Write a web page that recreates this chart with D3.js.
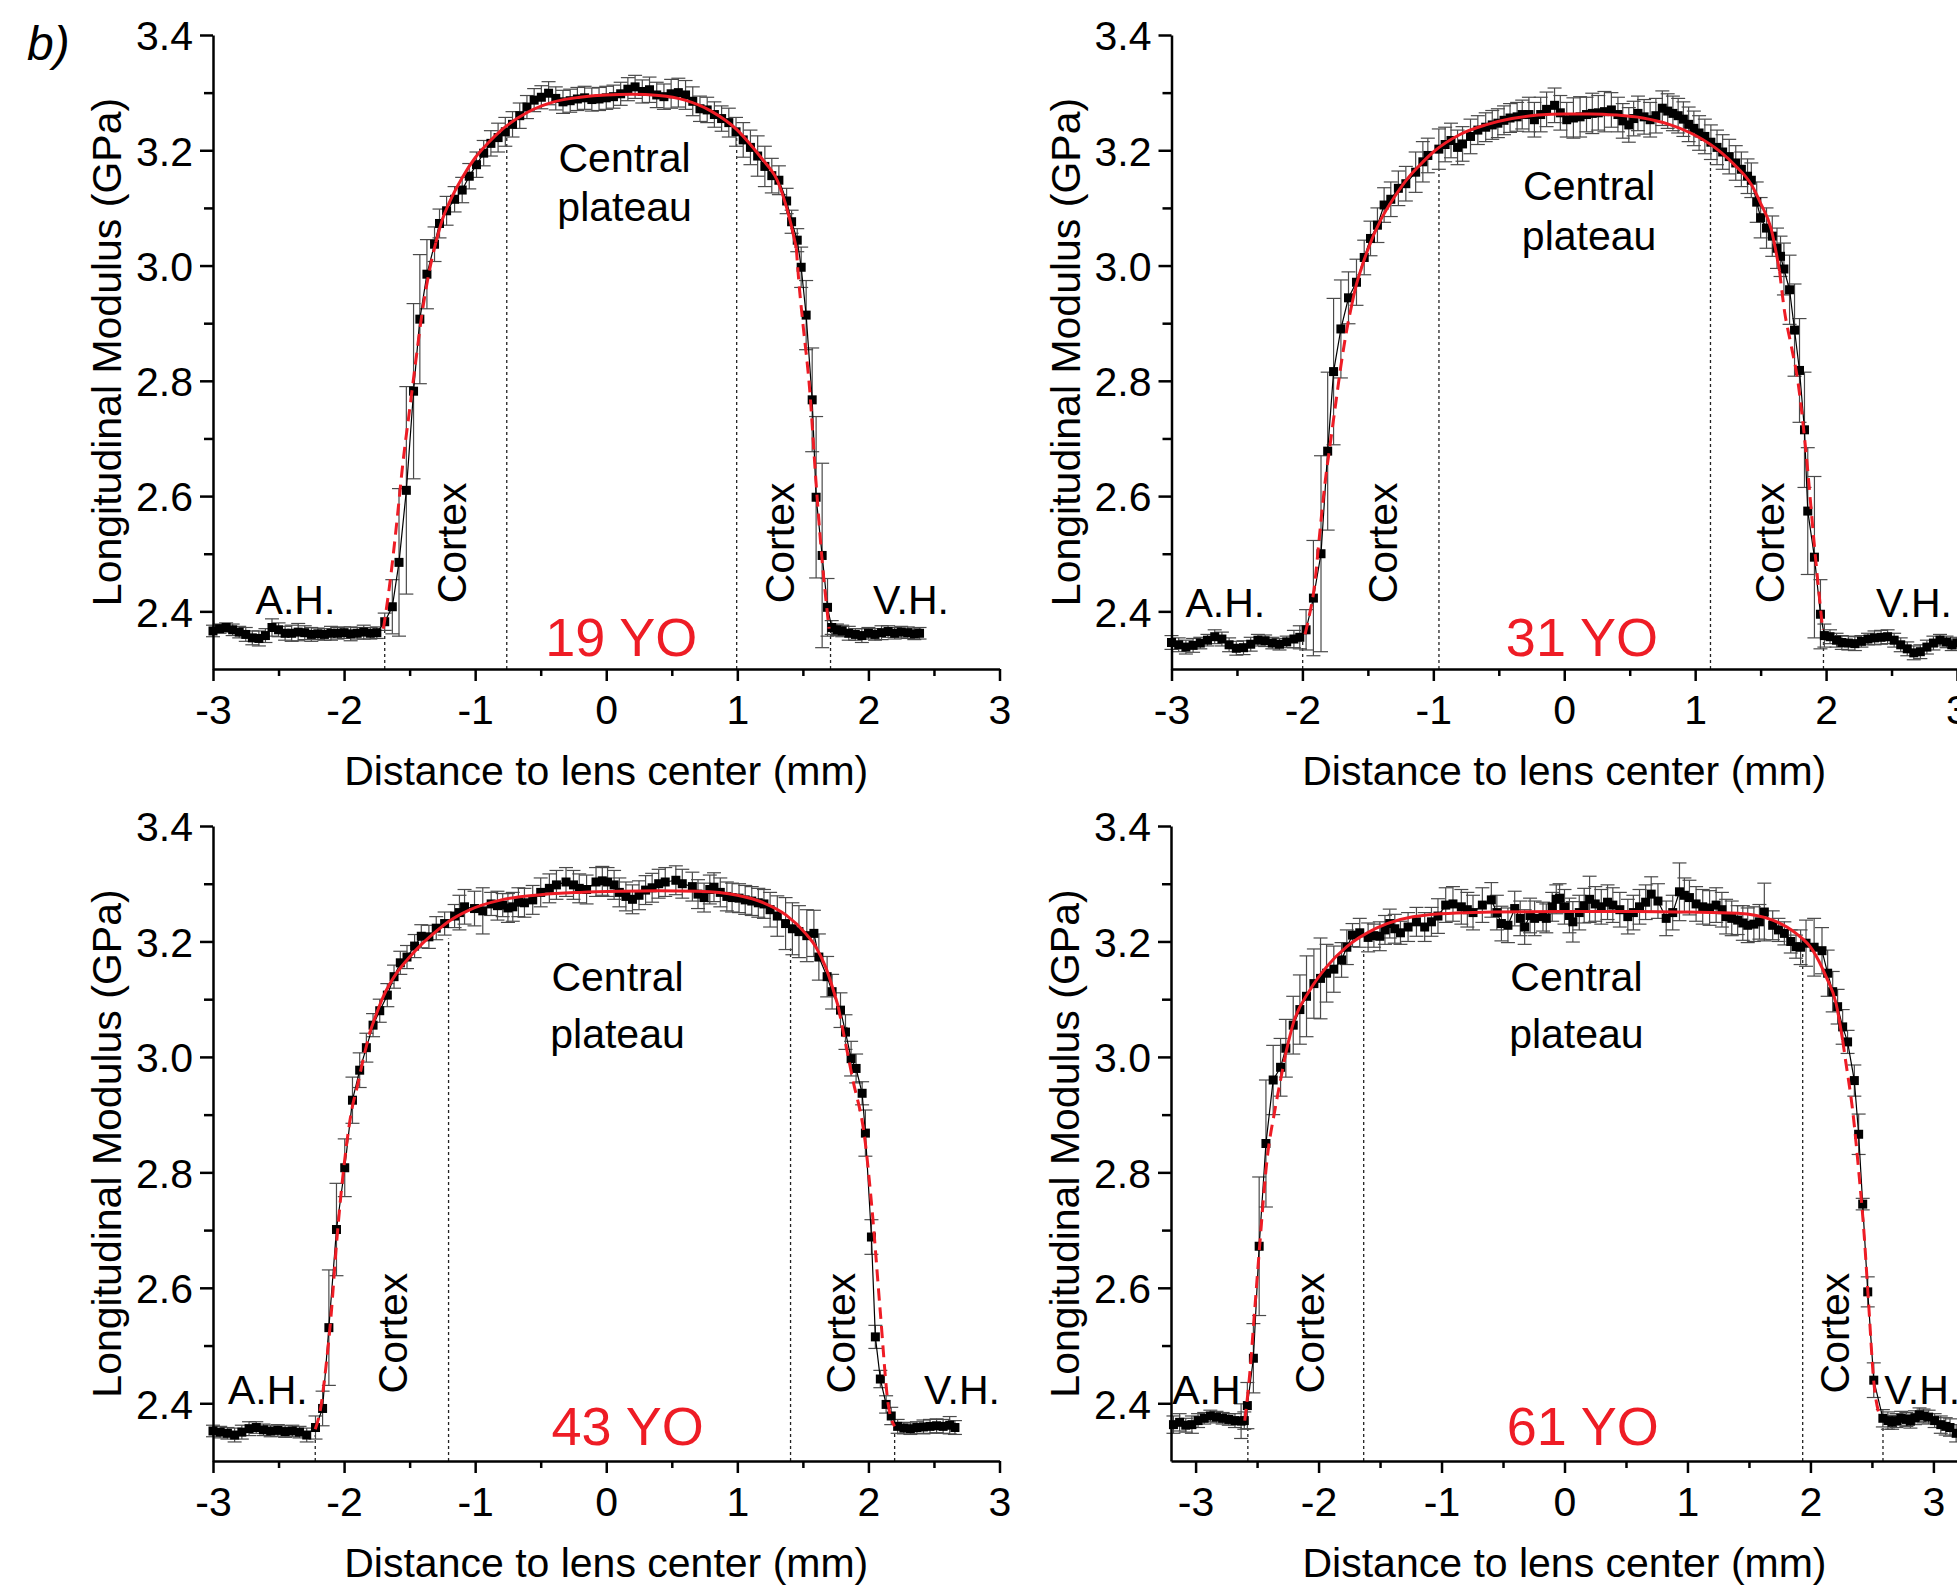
<!DOCTYPE html>
<html><head><meta charset="utf-8">
<script src="https://cdn.jsdelivr.net/npm/d3@7"></script>
<style>
body{margin:0;background:#fff;}
svg{display:block;}
text{font-family:"Liberation Sans",Arial,Helvetica,sans-serif;fill:#000;}
</style>
</head><body>
<svg id="chart" width="1957" height="1588"></svg>
<script>
// ---------- tick values / labels ----------
const xTicksMajor = [-3,-2,-1,0,1,2,3];
const xTicksMinor = [-2.5,-1.5,-0.5,0.5,1.5,2.5];
const yTicksMajor = [2.4,2.6,2.8,3.0,3.2,3.4];
const yTicksMinor = [2.5,2.7,2.9,3.1,3.3];
const yDomain = [2.3,3.4];
const xTitle = "Distance to lens center (mm)";
const yTitle = "Longitudinal Modulus (GPa)";
const ages = ["19 YO","31 YO","43 YO","61 YO"];

// ---------- measured points [distance mm, modulus GPa, error] ----------
const data19 = [[-3.00,2.366,0.01],[-2.95,2.370,0.008],[-2.90,2.372,0.008],[-2.85,2.368,0.01],[-2.80,2.364,0.01],[-2.75,2.360,0.012],[-2.70,2.354,0.012],[-2.65,2.353,0.013],[-2.60,2.358,0.012],[-2.55,2.372,0.015],[-2.50,2.368,0.012],[-2.45,2.362,0.012],[-2.40,2.362,0.014],[-2.35,2.364,0.015],[-2.30,2.363,0.012],[-2.25,2.360,0.012],[-2.20,2.361,0.01],[-2.15,2.360,0.01],[-2.10,2.362,0.012],[-2.05,2.362,0.01],[-2.00,2.363,0.01],[-1.95,2.361,0.012],[-1.90,2.362,0.01],[-1.85,2.364,0.012],[-1.80,2.362,0.01],[-1.75,2.363,0.01],[-1.69,2.382,0.015],[-1.632,2.408,0.047],[-1.581,2.485,0.128],[-1.525,2.610,0.18],[-1.470,2.782,0.152],[-1.422,2.907,0.112],[-1.368,2.985,0.06],[-1.310,3.037,0.03],[-1.272,3.073,0.025],[-1.218,3.095,0.025],[-1.157,3.115,0.022],[-1.099,3.131,0.022],[-1.045,3.155,0.022],[-0.99,3.175,0.022],[-0.935,3.195,0.022],[-0.88,3.212,0.022],[-0.825,3.222,0.025],[-0.77,3.232,0.025],[-0.715,3.245,0.022],[-0.66,3.26,0.022],[-0.605,3.275,0.02],[-0.55,3.287,0.02],[-0.495,3.292,0.02],[-0.44,3.299,0.02],[-0.385,3.29,0.02],[-0.33,3.284,0.02],[-0.275,3.286,0.02],[-0.22,3.289,0.02],[-0.165,3.291,0.02],[-0.11,3.288,0.02],[-0.055,3.289,0.02],[0,3.291,0.02],[0.055,3.293,0.02],[0.11,3.298,0.02],[0.165,3.306,0.02],[0.22,3.31,0.02],[0.275,3.302,0.02],[0.33,3.305,0.022],[0.385,3.296,0.022],[0.44,3.293,0.022],[0.495,3.298,0.025],[0.55,3.3,0.025],[0.605,3.296,0.025],[0.66,3.285,0.025],[0.715,3.272,0.022],[0.77,3.27,0.022],[0.825,3.262,0.022],[0.88,3.255,0.022],[0.935,3.248,0.025],[0.99,3.232,0.025],[1.045,3.218,0.03],[1.10,3.205,0.03],[1.155,3.19,0.035],[1.21,3.172,0.035],[1.263,3.156,0.03],[1.317,3.148,0.025],[1.376,3.112,0.022],[1.414,3.076,0.02],[1.457,3.044,0.02],[1.487,2.997,0.035],[1.525,2.914,0.06],[1.571,2.767,0.09],[1.601,2.598,0.14],[1.647,2.497,0.16],[1.688,2.407,0.05],[1.72,2.372,0.012],[1.76,2.368,0.01],[1.80,2.366,0.01],[1.85,2.362,0.012],[1.90,2.36,0.01],[1.95,2.358,0.012],[2.00,2.362,0.01],[2.05,2.36,0.01],[2.10,2.363,0.012],[2.15,2.365,0.01],[2.20,2.362,0.01],[2.25,2.364,0.01],[2.30,2.363,0.01],[2.35,2.361,0.01],[2.39,2.362,0.01]];

const data31 = [[-3.00,2.346,0.012],[-2.945,2.342,0.012],[-2.89,2.338,0.012],[-2.835,2.341,0.012],[-2.78,2.345,0.01],[-2.725,2.350,0.01],[-2.67,2.356,0.012],[-2.615,2.352,0.012],[-2.56,2.342,0.012],[-2.505,2.336,0.012],[-2.45,2.337,0.012],[-2.395,2.343,0.012],[-2.34,2.350,0.01],[-2.285,2.349,0.01],[-2.23,2.345,0.01],[-2.175,2.343,0.01],[-2.12,2.347,0.01],[-2.065,2.352,0.015],[-2.02,2.355,0.02],[-1.972,2.368,0.035],[-1.916,2.423,0.1],[-1.858,2.50,0.17],[-1.807,2.678,0.137],[-1.762,2.816,0.127],[-1.706,2.89,0.085],[-1.648,2.944,0.045],[-1.587,2.971,0.04],[-1.528,3.014,0.03],[-1.48,3.047,0.03],[-1.427,3.07,0.03],[-1.376,3.105,0.03],[-1.325,3.115,0.03],[-1.267,3.134,0.03],[-1.21,3.142,0.03],[-1.135,3.162,0.035],[-1.08,3.18,0.035],[-1.042,3.191,0.03],[-0.958,3.202,0.035],[-0.91,3.21,0.03],[-0.865,3.217,0.03],[-0.815,3.205,0.03],[-0.777,3.211,0.03],[-0.716,3.224,0.03],[-0.66,3.235,0.025],[-0.6,3.24,0.025],[-0.55,3.244,0.025],[-0.507,3.247,0.025],[-0.46,3.252,0.025],[-0.414,3.256,0.025],[-0.36,3.258,0.025],[-0.321,3.262,0.025],[-0.27,3.262,0.03],[-0.228,3.253,0.03],[-0.18,3.262,0.03],[-0.135,3.271,0.03],[-0.074,3.278,0.03],[-0.03,3.265,0.03],[0.019,3.253,0.03],[0.07,3.256,0.035],[0.121,3.258,0.035],[0.17,3.262,0.03],[0.214,3.264,0.035],[0.26,3.265,0.03],[0.307,3.267,0.035],[0.36,3.27,0.03],[0.41,3.262,0.03],[0.447,3.251,0.03],[0.493,3.244,0.03],[0.53,3.255,0.03],[0.563,3.264,0.03],[0.61,3.258,0.03],[0.656,3.253,0.03],[0.70,3.26,0.03],[0.749,3.273,0.03],[0.79,3.268,0.03],[0.83,3.264,0.03],[0.87,3.26,0.03],[0.91,3.254,0.03],[0.95,3.245,0.03],[0.99,3.238,0.03],[1.03,3.23,0.03],[1.074,3.224,0.03],[1.12,3.214,0.03],[1.167,3.205,0.03],[1.21,3.197,0.03],[1.26,3.189,0.03],[1.31,3.178,0.03],[1.353,3.167,0.03],[1.40,3.155,0.03],[1.429,3.148,0.03],[1.47,3.11,0.035],[1.50,3.083,0.035],[1.545,3.065,0.035],[1.589,3.051,0.035],[1.625,3.03,0.035],[1.652,3.016,0.035],[1.678,2.994,0.045],[1.721,2.958,0.06],[1.759,2.888,0.08],[1.797,2.818,0.09],[1.835,2.715,0.1],[1.86,2.574,0.11],[1.911,2.494,0.14],[1.957,2.395,0.06],[1.987,2.358,0.02],[2.03,2.356,0.012],[2.08,2.35,0.012],[2.12,2.346,0.012],[2.17,2.345,0.012],[2.22,2.344,0.012],[2.27,2.348,0.01],[2.32,2.352,0.01],[2.37,2.354,0.012],[2.42,2.355,0.012],[2.47,2.356,0.012],[2.52,2.35,0.012],[2.57,2.342,0.012],[2.62,2.335,0.012],[2.67,2.328,0.012],[2.72,2.33,0.012],[2.77,2.338,0.012],[2.82,2.345,0.012],[2.87,2.35,0.01],[2.92,2.347,0.01],[2.96,2.342,0.01],[3.0,2.345,0.01]];

const data43 = [[-3.00,2.352,0.01],[-2.945,2.350,0.01],[-2.89,2.348,0.01],[-2.835,2.345,0.012],[-2.78,2.350,0.012],[-2.725,2.356,0.012],[-2.67,2.358,0.01],[-2.615,2.354,0.01],[-2.56,2.352,0.01],[-2.505,2.353,0.01],[-2.45,2.351,0.01],[-2.395,2.352,0.01],[-2.34,2.350,0.01],[-2.285,2.345,0.012],[-2.218,2.358,0.02],[-2.164,2.391,0.03],[-2.116,2.531,0.1],[-2.058,2.701,0.08],[-1.995,2.808,0.05],[-1.936,2.925,0.04],[-1.881,2.977,0.03],[-1.83,3.016,0.025],[-1.779,3.055,0.02],[-1.728,3.08,0.02],[-1.67,3.107,0.02],[-1.619,3.139,0.02],[-1.571,3.163,0.02],[-1.52,3.173,0.02],[-1.462,3.192,0.02],[-1.411,3.209,0.02],[-1.353,3.208,0.02],[-1.297,3.223,0.02],[-1.233,3.231,0.02],[-1.157,3.244,0.02],[-1.12,3.25,0.03],[-1.081,3.26,0.03],[-1.005,3.257,0.03],[-0.942,3.253,0.04],[-0.878,3.265,0.02],[-0.83,3.262,0.025],[-0.79,3.263,0.02],[-0.75,3.258,0.025],[-0.713,3.26,0.025],[-0.67,3.268,0.025],[-0.624,3.267,0.025],[-0.561,3.272,0.025],[-0.5,3.285,0.025],[-0.434,3.292,0.025],[-0.38,3.298,0.025],[-0.307,3.303,0.025],[-0.25,3.298,0.025],[-0.206,3.292,0.025],[-0.15,3.29,0.025],[-0.078,3.303,0.025],[-0.03,3.305,0.025],[0.01,3.303,0.025],[0.06,3.298,0.025],[0.1,3.285,0.025],[0.15,3.278,0.025],[0.2,3.273,0.025],[0.25,3.28,0.025],[0.3,3.289,0.025],[0.35,3.293,0.025],[0.4,3.3,0.025],[0.45,3.303,0.025],[0.531,3.306,0.025],[0.58,3.3,0.025],[0.657,3.295,0.025],[0.7,3.282,0.025],[0.746,3.276,0.025],[0.79,3.29,0.025],[0.822,3.294,0.025],[0.87,3.285,0.025],[0.92,3.278,0.025],[0.96,3.276,0.025],[1.013,3.275,0.025],[1.06,3.272,0.025],[1.11,3.27,0.025],[1.16,3.267,0.025],[1.203,3.265,0.025],[1.25,3.255,0.03],[1.305,3.244,0.035],[1.368,3.231,0.045],[1.42,3.222,0.045],[1.47,3.217,0.045],[1.53,3.21,0.045],[1.584,3.214,0.04],[1.622,3.173,0.04],[1.685,3.139,0.035],[1.723,3.113,0.03],[1.787,3.081,0.03],[1.825,3.043,0.03],[1.868,2.997,0.03],[1.906,2.98,0.025],[1.952,2.937,0.02],[1.977,2.868,0.04],[2.023,2.688,0.03],[2.053,2.515,0.02],[2.091,2.442,0.015],[2.135,2.398,0.015],[2.174,2.378,0.015],[2.223,2.36,0.012],[2.27,2.357,0.01],[2.32,2.356,0.01],[2.37,2.358,0.01],[2.42,2.359,0.012],[2.47,2.36,0.012],[2.52,2.361,0.012],[2.57,2.36,0.012],[2.62,2.362,0.015],[2.66,2.358,0.012]];

const data61 = [[-3.18,2.363,0.015],[-3.13,2.367,0.015],[-3.08,2.362,0.012],[-3.03,2.363,0.015],[-2.98,2.37,0.012],[-2.93,2.374,0.01],[-2.88,2.378,0.01],[-2.83,2.376,0.01],[-2.78,2.374,0.01],[-2.73,2.372,0.01],[-2.68,2.37,0.012],[-2.63,2.369,0.03],[-2.604,2.37,0.015],[-2.579,2.396,0.04],[-2.53,2.478,0.06],[-2.483,2.672,0.12],[-2.428,2.85,0.11],[-2.369,2.96,0.06],[-2.309,2.982,0.05],[-2.266,3.015,0.05],[-2.206,3.055,0.05],[-2.152,3.082,0.06],[-2.098,3.105,0.07],[-2.038,3.127,0.06],[-1.984,3.136,0.07],[-1.935,3.145,0.05],[-1.876,3.152,0.04],[-1.813,3.168,0.03],[-1.77,3.19,0.03],[-1.724,3.211,0.02],[-1.665,3.215,0.025],[-1.597,3.207,0.025],[-1.55,3.21,0.02],[-1.502,3.209,0.025],[-1.46,3.22,0.025],[-1.421,3.231,0.025],[-1.38,3.222,0.025],[-1.334,3.215,0.02],[-1.272,3.225,0.025],[-1.204,3.234,0.025],[-1.137,3.225,0.025],[-1.082,3.234,0.025],[-1.029,3.244,0.03],[-0.966,3.263,0.03],[-0.907,3.265,0.03],[-0.839,3.26,0.03],[-0.79,3.255,0.03],[-0.744,3.25,0.03],[-0.668,3.263,0.03],[-0.595,3.272,0.03],[-0.55,3.25,0.03],[-0.513,3.231,0.03],[-0.46,3.228,0.03],[-0.405,3.257,0.03],[-0.36,3.24,0.03],[-0.324,3.225,0.03],[-0.28,3.245,0.03],[-0.243,3.24,0.03],[-0.175,3.243,0.025],[-0.148,3.24,0.025],[-0.1,3.26,0.025],[-0.067,3.273,0.025],[-0.04,3.275,0.025],[0.0,3.26,0.03],[0.04,3.245,0.03],[0.068,3.234,0.035],[0.12,3.25,0.03],[0.16,3.262,0.03],[0.204,3.273,0.04],[0.25,3.265,0.03],[0.299,3.26,0.03],[0.35,3.268,0.03],[0.393,3.263,0.03],[0.45,3.255,0.03],[0.515,3.243,0.03],[0.56,3.25,0.03],[0.61,3.26,0.03],[0.66,3.268,0.03],[0.705,3.282,0.03],[0.76,3.27,0.03],[0.827,3.24,0.03],[0.88,3.25,0.03],[0.935,3.286,0.05],[0.975,3.28,0.03],[1.016,3.276,0.03],[1.07,3.265,0.03],[1.124,3.26,0.03],[1.18,3.258,0.03],[1.233,3.263,0.03],[1.28,3.255,0.03],[1.314,3.243,0.03],[1.36,3.24,0.03],[1.408,3.237,0.025],[1.45,3.232,0.03],[1.49,3.228,0.03],[1.54,3.23,0.03],[1.585,3.234,0.03],[1.625,3.251,0.05],[1.693,3.228,0.025],[1.74,3.22,0.02],[1.788,3.214,0.02],[1.84,3.2,0.02],[1.883,3.191,0.02],[1.92,3.19,0.03],[1.964,3.197,0.04],[2.03,3.19,0.05],[2.094,3.184,0.04],[2.14,3.145,0.04],[2.181,3.113,0.035],[2.221,3.087,0.03],[2.262,3.052,0.03],[2.302,3.026,0.02],[2.357,2.959,0.027],[2.392,2.866,0.035],[2.425,2.745,0.01],[2.466,2.593,0.026],[2.515,2.44,0.03],[2.589,2.374,0.015],[2.63,2.37,0.015],[2.664,2.367,0.012],[2.70,2.37,0.012],[2.738,2.374,0.012],[2.78,2.372,0.012],[2.813,2.369,0.012],[2.85,2.375,0.012],[2.887,2.38,0.012],[2.92,2.378,0.012],[2.961,2.376,0.012],[3.01,2.37,0.012],[3.06,2.363,0.015],[3.1,2.36,0.015],[3.135,2.358,0.015],[3.185,2.348,0.015]];

// ---------- fitted profile curves [distance, modulus] ----------
const fit19 = [[-1.70,2.37],[-1.65,2.45],[-1.60,2.55],[-1.55,2.66],[-1.50,2.75],[-1.45,2.84],[-1.40,2.925],[-1.35,2.99],[-1.30,3.04],[-1.25,3.08],[-1.20,3.108],[-1.10,3.152],[-1.00,3.187],[-0.90,3.213],[-0.80,3.235],[-0.60,3.266],[-0.40,3.284],[-0.20,3.292],[0,3.296],[0.20,3.297],[0.40,3.295],[0.60,3.287],[0.80,3.268],[1.00,3.235],[1.10,3.21],[1.20,3.182],[1.25,3.168],[1.30,3.15],[1.35,3.12],[1.40,3.08],[1.45,3.03],[1.47,2.97],[1.50,2.90],[1.55,2.79],[1.60,2.625],[1.65,2.48],[1.70,2.37]];
const fit31 = [[-1.98,2.36],[-1.95,2.39],[-1.91,2.44],[-1.87,2.53],[-1.833,2.612],[-1.782,2.70],[-1.74,2.77],[-1.706,2.826],[-1.66,2.89],[-1.62,2.935],[-1.59,2.965],[-1.55,2.995],[-1.50,3.028],[-1.40,3.08],[-1.30,3.118],[-1.20,3.15],[-1.10,3.175],[-1.00,3.197],[-0.80,3.227],[-0.60,3.244],[-0.40,3.255],[-0.20,3.261],[0,3.263],[0.20,3.263],[0.40,3.261],[0.60,3.256],[0.80,3.245],[1.00,3.226],[1.20,3.196],[1.30,3.175],[1.43,3.14],[1.50,3.108],[1.58,3.064],[1.645,2.99],[1.683,2.92],[1.73,2.865],[1.784,2.80],[1.847,2.675],[1.911,2.513],[1.974,2.368]];
const fit43 = [[-2.22,2.355],[-2.18,2.39],[-2.14,2.46],[-2.10,2.55],[-2.06,2.67],[-2.02,2.77],[-1.98,2.85],[-1.94,2.91],[-1.90,2.948],[-1.85,3.0],[-1.80,3.045],[-1.70,3.105],[-1.60,3.145],[-1.50,3.173],[-1.40,3.197],[-1.30,3.217],[-1.20,3.235],[-1.05,3.254],[-0.80,3.272],[-0.50,3.281],[-0.20,3.285],[0.10,3.287],[0.40,3.288],[0.70,3.287],[1.00,3.28],[1.20,3.267],[1.37,3.246],[1.52,3.214],[1.60,3.19],[1.673,3.156],[1.77,3.087],[1.876,2.966],[1.977,2.85],[2.028,2.735],[2.09,2.56],[2.15,2.40],[2.20,2.36]];
const fit61 = [[-2.60,2.37],[-2.56,2.45],[-2.52,2.56],[-2.48,2.67],[-2.42,2.82],[-2.355,2.908],[-2.30,2.97],[-2.27,3.003],[-2.206,3.058],[-2.07,3.116],[-1.935,3.156],[-1.77,3.191],[-1.53,3.223],[-1.12,3.246],[-0.58,3.251],[0,3.252],[0.6,3.252],[1.0,3.251],[1.408,3.249],[1.693,3.237],[1.883,3.214],[2.018,3.185],[2.127,3.139],[2.208,3.093],[2.262,3.029],[2.289,2.989],[2.343,2.908],[2.397,2.792],[2.432,2.706],[2.473,2.573],[2.515,2.438],[2.56,2.38]];
// x-range where each fit is drawn solid (outside: dashed)
const solid19 = [-1.30,1.45], solid31 = [-1.62,1.645], solid43 = [-1.80,1.77], solid61 = [-2.27,2.262];

// ---------- zone boundaries [distance, top modulus] ----------
const bounds19 = [[-1.69,2.37],[-0.759,3.237],[0.995,3.235],[1.711,2.365]];
const bounds31 = [[-1.998,2.352],[-0.957,3.168],[1.117,3.18],[1.98,2.35]];
const bounds43 = [[-2.22,2.345],[-1.203,3.205],[1.406,3.188],[2.2,2.352]];
const bounds61 = [[-2.575,2.36],[-1.633,3.185],[1.937,3.185],[2.59,2.36]];

// ---------- layout ----------
const RED = "#ee1c25";
const panels = [
  {data:data19, fit:fit19, solid:solid19, bounds:bounds19, age:ages[0], xDomain:[-3,3], xRange:[213,999.5], yRange:[669,35],
   ah:{x:-2.371,y:2.395,a:"middle",t:"A.H."}, vh:{x:2.325,y:2.395,a:"middle",t:"V.H."},
   cortex:[{x:-1.067,y:2.414},{x:1.433,y:2.414}], central:{x:0.14,y1:3.162,y2:3.077}, ageAt:{x:0.114,y:2.323}},
  {data:data31, fit:fit31, solid:solid31, bounds:bounds31, age:ages[1], xDomain:[-3,3], xRange:[1171.5,1957], yRange:[669,35],
   ah:{x:-2.589,y:2.39,a:"middle",t:"A.H."}, vh:{x:2.381,y:2.39,a:"start",t:"V.H."},
   cortex:[{x:-1.277,y:2.414},{x:1.681,y:2.414}], central:{x:0.19,y1:3.113,y2:3.027}, ageAt:{x:0.135,y:2.323}},
  {data:data43, fit:fit43, solid:solid43, bounds:bounds43, age:ages[2], xDomain:[-3,3], xRange:[213,999.5], yRange:[1461,826],
   ah:{x:-2.582,y:2.398,a:"middle",t:"A.H."}, vh:{x:2.714,y:2.398,a:"middle",t:"V.H."},
   cortex:[{x:-1.518,y:2.417},{x:1.894,y:2.417}], central:{x:0.086,y1:3.114,y2:3.016}, ageAt:{x:0.163,y:2.327}},
  {data:data61, fit:fit61, solid:solid61, bounds:bounds61, age:ages[3], xDomain:[-3.2,3.2], xRange:[1171,1958], yRange:[1461,826],
   ah:{x:-3.19,y:2.398,a:"start",t:"A.H"}, vh:{x:2.60,y:2.398,a:"start",t:"V.H."},
   cortex:[{x:-1.955,y:2.417},{x:2.31,y:2.417}], central:{x:0.097,y1:3.114,y2:3.016}, ageAt:{x:0.148,y:2.327}}
];

const svg = d3.select("#chart");
const FS = 41;

svg.append("text").attr("x",27).attr("y",60).attr("font-size",48).attr("font-style","italic").text("b)");

function drawPanel(p){
  const g = svg.append("g");
  const x = d3.scaleLinear().domain(p.xDomain).range(p.xRange);
  const y = d3.scaleLinear().domain(yDomain).range(p.yRange);
  const y0 = y(yDomain[0]);

  // boundary dashed lines
  g.append("g").selectAll("line").data(p.bounds).join("line")
    .attr("x1",d=>x(d[0])).attr("x2",d=>x(d[0]))
    .attr("y1",y0).attr("y2",d=>y(d[1]))
    .attr("stroke","#222").attr("stroke-width",1.3).attr("stroke-dasharray","3,3");

  // error bars
  const eb = g.append("g").attr("stroke","#4a4a4a").attr("stroke-width",1.2).attr("fill","none");
  eb.selectAll("line.v").data(p.data).join("line").attr("class","v")
    .attr("x1",d=>x(d[0])).attr("x2",d=>x(d[0]))
    .attr("y1",d=>y(d[1]-d[2])).attr("y2",d=>y(d[1]+d[2]));
  eb.selectAll("line.t").data(p.data).join("line").attr("class","t")
    .attr("x1",d=>x(d[0])-7).attr("x2",d=>x(d[0])+7)
    .attr("y1",d=>y(d[1]+d[2])).attr("y2",d=>y(d[1]+d[2]));
  eb.selectAll("line.b").data(p.data).join("line").attr("class","b")
    .attr("x1",d=>x(d[0])-7).attr("x2",d=>x(d[0])+7)
    .attr("y1",d=>y(d[1]-d[2])).attr("y2",d=>y(d[1]-d[2]));

  // connecting line
  g.append("path").datum(p.data)
    .attr("d",d3.line().x(d=>x(d[0])).y(d=>y(d[1])))
    .attr("fill","none").attr("stroke","#000").attr("stroke-width",1.2);

  // square markers
  g.append("g").selectAll("rect").data(p.data).join("rect")
    .attr("x",d=>x(d[0])-4.5).attr("y",d=>y(d[1])-4.5)
    .attr("width",9).attr("height",9).attr("fill","#000");

  // fit curve
  const fl = d3.line().x(d=>x(d[0])).y(d=>y(d[1])).curve(d3.curveMonotoneX);
  const left = p.fit.filter(d=>d[0]<=p.solid[0]);
  const mid = p.fit.filter(d=>d[0]>=p.solid[0] && d[0]<=p.solid[1]);
  const right = p.fit.filter(d=>d[0]>=p.solid[1]);
  [[left,"12,7"],[mid,null],[right,"12,7"]].forEach(([seg,dash])=>{
    const path = g.append("path").datum(seg).attr("d",fl)
      .attr("fill","none").attr("stroke",RED).attr("stroke-width",3);
    if(dash) path.attr("stroke-dasharray",dash);
  });

  // axes
  const gx = g.append("g").attr("transform",`translate(0,${y0})`);
  gx.call(d3.axisBottom(x).tickValues(xTicksMajor).tickFormat(d3.format("d")).tickSize(12).tickSizeOuter(0));
  gx.selectAll("text").attr("y",55).attr("dy",0).attr("font-size",FS).attr("font-family",null).text(d=>d<0?"-"+Math.abs(d):d);
  const gxm = g.append("g").attr("transform",`translate(0,${y0})`);
  gxm.call(d3.axisBottom(x).tickValues(xTicksMinor).tickFormat("").tickSize(7).tickSizeOuter(0));
  gxm.select(".domain").remove();

  const gy = g.append("g").attr("transform",`translate(${p.xRange[0]},0)`);
  gy.call(d3.axisLeft(y).tickValues(yTicksMajor).tickFormat(d3.format(".1f")).tickSize(13).tickSizeOuter(0));
  gy.selectAll("text").attr("x",-20).attr("dy","0.36em").attr("font-size",FS).attr("font-family",null);
  const gym = g.append("g").attr("transform",`translate(${p.xRange[0]},0)`);
  gym.call(d3.axisLeft(y).tickValues(yTicksMinor).tickFormat("").tickSize(9).tickSizeOuter(0));
  gym.select(".domain").remove();

  g.selectAll(".domain, .tick line").attr("stroke","#000").attr("stroke-width",2.5);
  g.selectAll(".tick text").attr("fill","#000");

  // axis titles
  const cx = (p.xRange[0]+p.xRange[1])/2;
  g.append("text").attr("x",cx).attr("y",y0+116).attr("text-anchor","middle").attr("font-size",FS).text(xTitle);
  const cy = (p.yRange[0]+p.yRange[1])/2;
  g.append("text").attr("transform",`translate(${p.xRange[0]-92},${cy}) rotate(-90)`)
    .attr("text-anchor","middle").attr("font-size",FS).text(yTitle);

  // annotations
  [p.ah,p.vh].forEach(a=>{
    g.append("text").attr("x",x(a.x)).attr("y",y(a.y)).attr("text-anchor",a.a).attr("font-size",FS).text(a.t);
  });
  p.cortex.forEach(c=>{
    g.append("text").attr("transform",`translate(${x(c.x)},${y(c.y)}) rotate(-90)`)
      .attr("text-anchor","start").attr("font-size",FS).text("Cortex");
  });
  g.append("text").attr("x",x(p.central.x)).attr("y",y(p.central.y1)).attr("text-anchor","middle").attr("font-size",FS).text("Central");
  g.append("text").attr("x",x(p.central.x)).attr("y",y(p.central.y2)).attr("text-anchor","middle").attr("font-size",FS).text("plateau");
  g.append("text").attr("x",x(p.ageAt.x)).attr("y",y(p.ageAt.y)).attr("text-anchor","middle")
    .attr("font-size",54).style("fill",RED).text(p.age);
}
panels.forEach(drawPanel);
</script>
</body></html>
